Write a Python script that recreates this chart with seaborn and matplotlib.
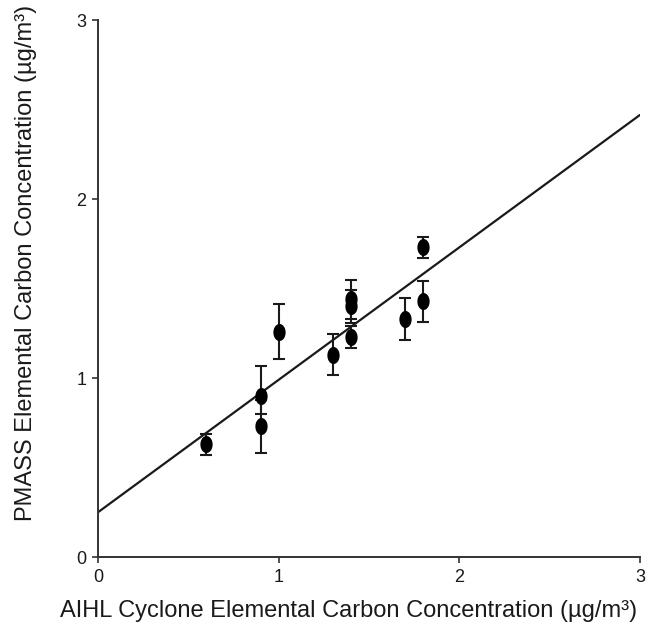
import numpy as np
import pandas as pd
import matplotlib
matplotlib.use("Agg")
import matplotlib.pyplot as plt
from matplotlib.path import Path
import seaborn as sns

# Paired elemental carbon measurements (µg/m³)
aihl_ec = [0.60, 0.90, 0.90, 1.00, 1.30, 1.40, 1.40, 1.40, 1.70, 1.80, 1.80]
pmass_ec = [0.63, 0.90, 0.73, 1.26, 1.13, 1.44, 1.40, 1.23, 1.33, 1.73, 1.43]
err_low = [0.06, 0.10, 0.15, 0.155, 0.115, 0.11, 0.09, 0.06, 0.12, 0.06, 0.115]
err_high = [0.06, 0.17, 0.15, 0.155, 0.115, 0.11, 0.09, 0.06, 0.12, 0.06, 0.115]

# Regression line
fit_intercept = 0.25
fit_slope = 0.74
fit_x = [0.0, 3.0]

ticks = [0, 1, 2, 3]

sns.set_theme(style="ticks")
plt.rcParams["font.family"] = ["Liberation Sans", "DejaVu Sans"]

df = pd.DataFrame({"aihl": aihl_ec, "pmass": pmass_ec})
line_df = pd.DataFrame({"x": fit_x,
                        "y": [fit_intercept + fit_slope * v for v in fit_x]})

fig = plt.figure(figsize=(6.53, 6.28), dpi=100)
ax = fig.add_axes([0.150, 0.113, 0.830, 0.855])

sns.lineplot(data=line_df, x="x", y="y", color="#1a1a1a", linewidth=1.6, ax=ax)

ax.errorbar(aihl_ec, pmass_ec, yerr=[err_low, err_high], fmt="none",
            ecolor="#1a1a1a", elinewidth=1.5, capsize=4.5, capthick=1.5, zorder=3)

# tall elliptical marker
theta = np.linspace(0, 2 * np.pi, 60)
ellipse = Path(np.column_stack([0.72 * np.cos(theta), np.sin(theta)]), closed=True)
sns.scatterplot(data=df, x="aihl", y="pmass", marker=ellipse, s=150,
                color="black", edgecolor="black", linewidth=0, ax=ax, zorder=4)

ax.set_xlim(0, 3)
ax.set_ylim(0, 3)
ax.set_xticks(ticks)
ax.set_yticks(ticks)
ax.set_xticklabels([str(t) for t in ticks])
ax.set_yticklabels([str(t) for t in ticks])
ax.tick_params(axis="both", labelsize=13, length=4.5, width=1.2, color="#333333",
               labelcolor="#1a1a1a", pad=4)

sns.despine(ax=ax)
for side in ("left", "bottom"):
    ax.spines[side].set_linewidth(1.4)
    ax.spines[side].set_color("#333333")

ax.set_xlabel("AIHL Cyclone Elemental Carbon Concentration (µg/m³)",
              fontsize=17, color="#1a1a1a")
ax.set_ylabel("PMASS Elemental Carbon Concentration (µg/m³)",
              fontsize=17, color="#1a1a1a")
ax.xaxis.set_label_coords(0.463, -0.080)
ax.yaxis.set_label_coords(-0.112, 0.547)

fig.savefig("out.png", dpi=100, facecolor="white")
